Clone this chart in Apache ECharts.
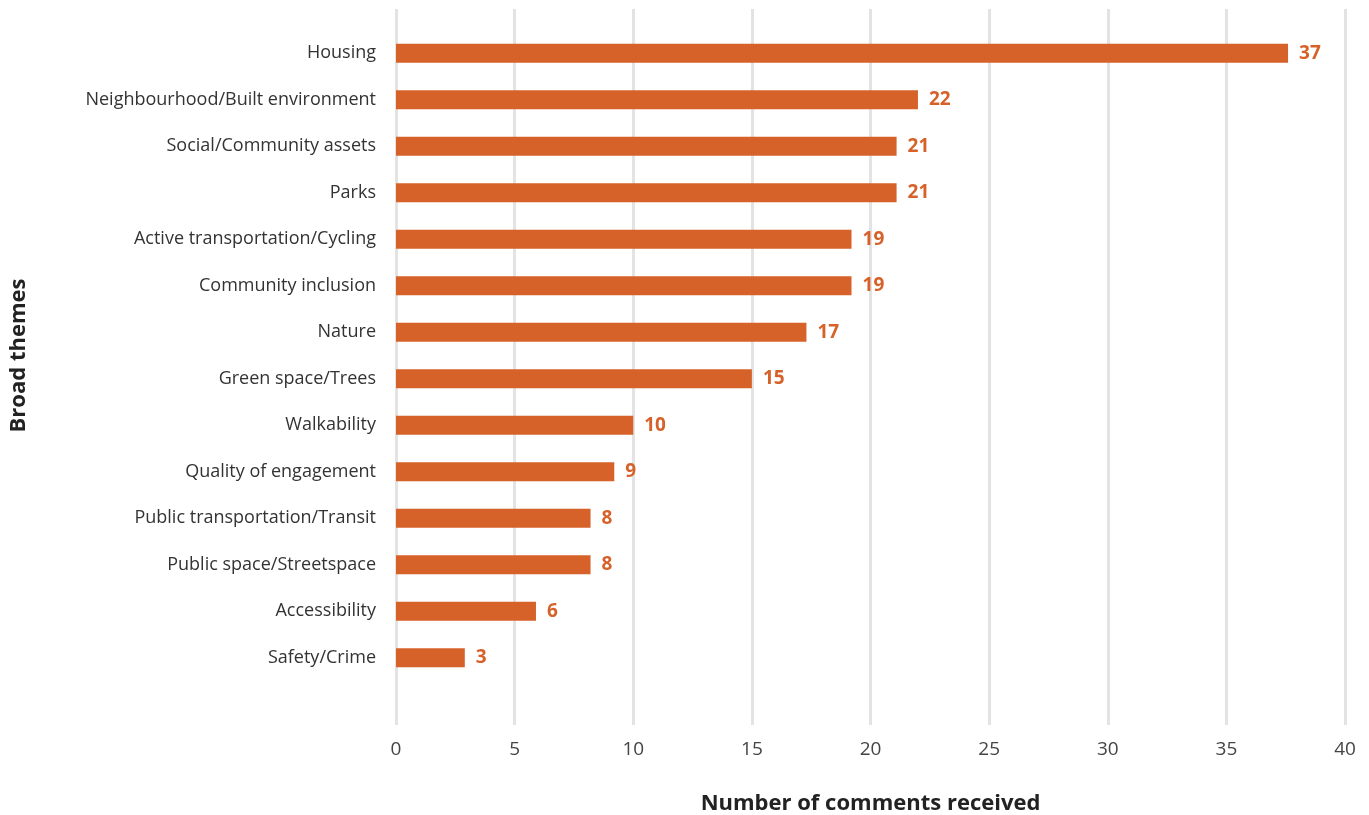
<!DOCTYPE html>
<html><head><meta charset="utf-8">
<script src="https://cdn.jsdelivr.net/npm/echarts@6/dist/echarts.min.js"></script>
<style>html,body{margin:0;padding:0;background:#fff}#c{width:1369px;height:815px}</style>
</head><body><div id="c"></div>
<script>
var categories = ["Housing","Neighbourhood/Built environment","Social/Community assets","Parks","Active transportation/Cycling","Community inclusion","Nature","Green space/Trees","Walkability","Quality of engagement","Public transportation/Transit","Public space/Streetspace","Accessibility","Safety/Crime"];
var values = [37.6, 22.0, 21.1, 21.1, 19.2, 19.2, 17.3, 15.0, 10.0, 9.2, 8.2, 8.2, 5.9, 2.9];
var labels = ["37","22","21","21","19","19","17","15","10","9","8","8","6","3"];
var xTicks = [0,5,10,15,20,25,30,35,40];

var FONT = "Open Sans";
var ORANGE = "#D6622A";
var chart = echarts.init(document.getElementById('c'), null, {renderer:'canvas'});
chart.setOption({
  animation:false,
  textStyle:{fontFamily:FONT},
  grid:[
    {left:396, right:24, top:9, bottom:90, containLabel:false, outerBoundsMode:'none'},
    {left:396, right:24, top:30, height:651, containLabel:false, outerBoundsMode:'none'}
  ],
  xAxis:[
    {gridIndex:0, type:'value', min:xTicks[0], max:xTicks[xTicks.length-1], interval:5,
     axisLine:{show:false}, axisTick:{show:false},
     splitLine:{show:true, lineStyle:{color:'#e3e3e3', width:3}},
     axisLabel:{color:'#444', fontSize:19, margin:15, fontFamily:FONT},
     name:'Number of comments received', nameLocation:'middle', nameGap:68,
     nameTextStyle:{fontSize:22, fontWeight:'bold', color:'#222', fontFamily:FONT}},
    {gridIndex:1, type:'value', min:0, max:40, show:false}
  ],
  yAxis:[
    {gridIndex:0, type:'category', data:categories, show:false},
    {gridIndex:1, type:'category', data:categories, inverse:true,
     axisLine:{show:false}, axisTick:{show:false}, splitLine:{show:false},
     axisLabel:{color:'#333', fontSize:18, margin:20, fontFamily:FONT},
     name:'Broad themes', nameLocation:'middle', nameGap:366, nameRotate:90,
     nameTextStyle:{fontSize:22, fontWeight:'bold', color:'#222', fontFamily:FONT}}
  ],
  series:[{
    type:'bar', xAxisIndex:1, yAxisIndex:1, data:values, barWidth:19,
    itemStyle:{color:ORANGE},
    label:{show:true, position:'right', distance:11, color:ORANGE, fontSize:19, fontWeight:'bold', fontFamily:FONT,
      formatter:function(p){return labels[p.dataIndex];}}
  }]
});
</script></body></html>
